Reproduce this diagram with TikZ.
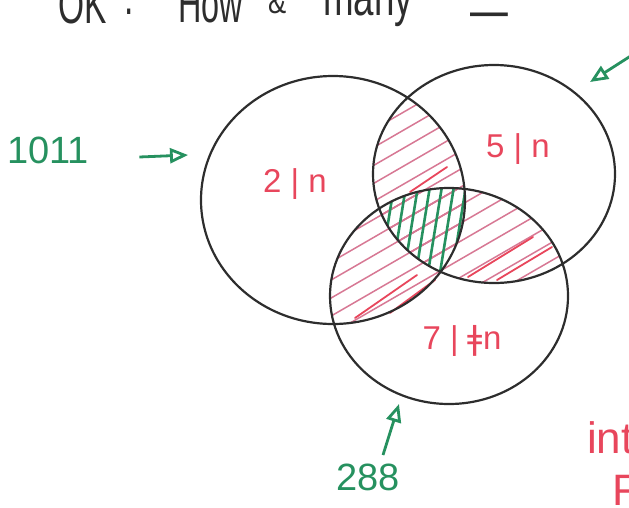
\documentclass[tikz,border=0pt]{standalone}
\usepackage{fontspec}
\setmainfont{Liberation Sans}
\newfontfamily\dvfont{DejaVu Sans}
\usetikzlibrary{arrows.meta}
\definecolor{penink}{RGB}{45,45,45}
\definecolor{pengreen}{RGB}{38,145,95}
\definecolor{penred}{RGB}{232,70,92}
\definecolor{hatchpink}{RGB}{215,120,148}

\begin{document}
\begin{tikzpicture}[x=1pt, y=-1pt, >={Triangle[open,length=18pt,width=15pt]},
  circ/.style={penink, line width=2.2pt},
  lbl/.style={penred, font=\fontsize{33}{33}\selectfont},
  cnt/.style={pengreen, font=\fontsize{38}{38}\selectfont},
  titletxt/.style={penink, font=\fontsize{54}{54}\selectfont, anchor=base west, inner sep=0pt},
  pinkhatch/.style={hatchpink, line width=1.5pt, line cap=round},
  redhatch/.style={penred, line width=1.8pt, line cap=round},
  greenhatch/.style={pengreen, line width=2.6pt, line cap=round},
  pointer/.style={pengreen, line width=2.8pt, ->}]
  \useasboundingbox (0,0) rectangle (629,507);
  \clip (0,0) rectangle (629,507);
  \def\ellA{(333,200) ellipse [x radius=132pt, y radius=124pt]}
  \def\ellB{(494,174) ellipse [x radius=121pt, y radius=109pt]}
  \def\ellC{(449,296) ellipse [x radius=119pt, y radius=108pt]}

  % pairwise overlaps: pink hatch
  \begin{scope}
    \clip \ellA; \clip \ellB;
    \foreach \c in {100,118,...,700} \draw[pinkhatch] (300,\c) -- (620,\c-185);
  \end{scope}
  \begin{scope}
    \clip \ellB; \clip \ellC;
    \foreach \c in {100,118,...,700} \draw[pinkhatch] (300,\c) -- (620,\c-185);
  \end{scope}
  \begin{scope}
    \clip \ellA; \clip \ellC;
    \foreach \c in {100,118,...,700} \draw[pinkhatch] (300,\c) -- (620,\c-185);
  \end{scope}
  % a few heavier strokes
  \draw[redhatch] (355,318) -- (417,275);
  \draw[redhatch] (390,313) -- (435,280);
  \draw[redhatch] (468,277) -- (533,237);
  \draw[redhatch] (497,280) -- (552,247);
  \draw[redhatch] (410,192) -- (447,167);

  % triple overlap: green hatch
  \begin{scope}
    \clip \ellA; \clip \ellB; \clip \ellC;
    \foreach \g in {366,378,...,480} \draw[greenhatch] (\g,285) -- (\g+17,180);
  \end{scope}

  % the three sets
  \draw[circ] \ellA;
  \draw[circ] \ellB;
  \draw[circ] \ellC;

  \node[lbl] (twoN) at (295,184) {2 | n};
  \node[lbl] (fiveN) at (518,149) {5 | n};
  \node[lbl] (sevenN) at (462,341) {7 | {\dvfont ǂ}n};

  \node[cnt] (cntA) at (48,150) {1011};
  \node[cnt] (cntC) at (368,477) {288};
  \coordinate (tipA) at (188,155);
  \coordinate (tipB) at (590,82);
  \coordinate (tailB) at (640,50);
  \coordinate (tipC) at (399,404);
  \draw[pointer] ([shift={(47,7)}]cntA.east) -- (tipA);
  \draw[pointer] ([shift={(15,-5)}]cntC.north) -- (tipC);
  \draw[pointer] (tailB) -- (tipB);

  % heading, cut off by the top edge
  \node[titletxt] (hOK) at (58,23) {\scalebox{0.62}[1]{OK}};
  \node[titletxt] (hColon) at (124,14) {\scalebox{0.62}[1]{:}};
  \node[titletxt] (hHow) at (178,22) {\scalebox{0.6}[1]{How}};
  \node[titletxt, font=\fontsize{34}{34}\selectfont] (hAnd) at (268,13) {\scalebox{0.8}[1]{\&}};
  \node[titletxt] (hMany) at (323,15) {\scalebox{0.68}[1]{many}};
  \node[titletxt] (hDash) at (470,28) {\scalebox{0.7}[1]{—}};

  \node[titletxt, penred, font=\fontsize{44}{44}\selectfont] (hInt) at (587,453) {int};
  \node[titletxt, penred, font=\fontsize{44}{44}\selectfont] (hF) at (612,505) {F};
\end{tikzpicture}
\end{document}
